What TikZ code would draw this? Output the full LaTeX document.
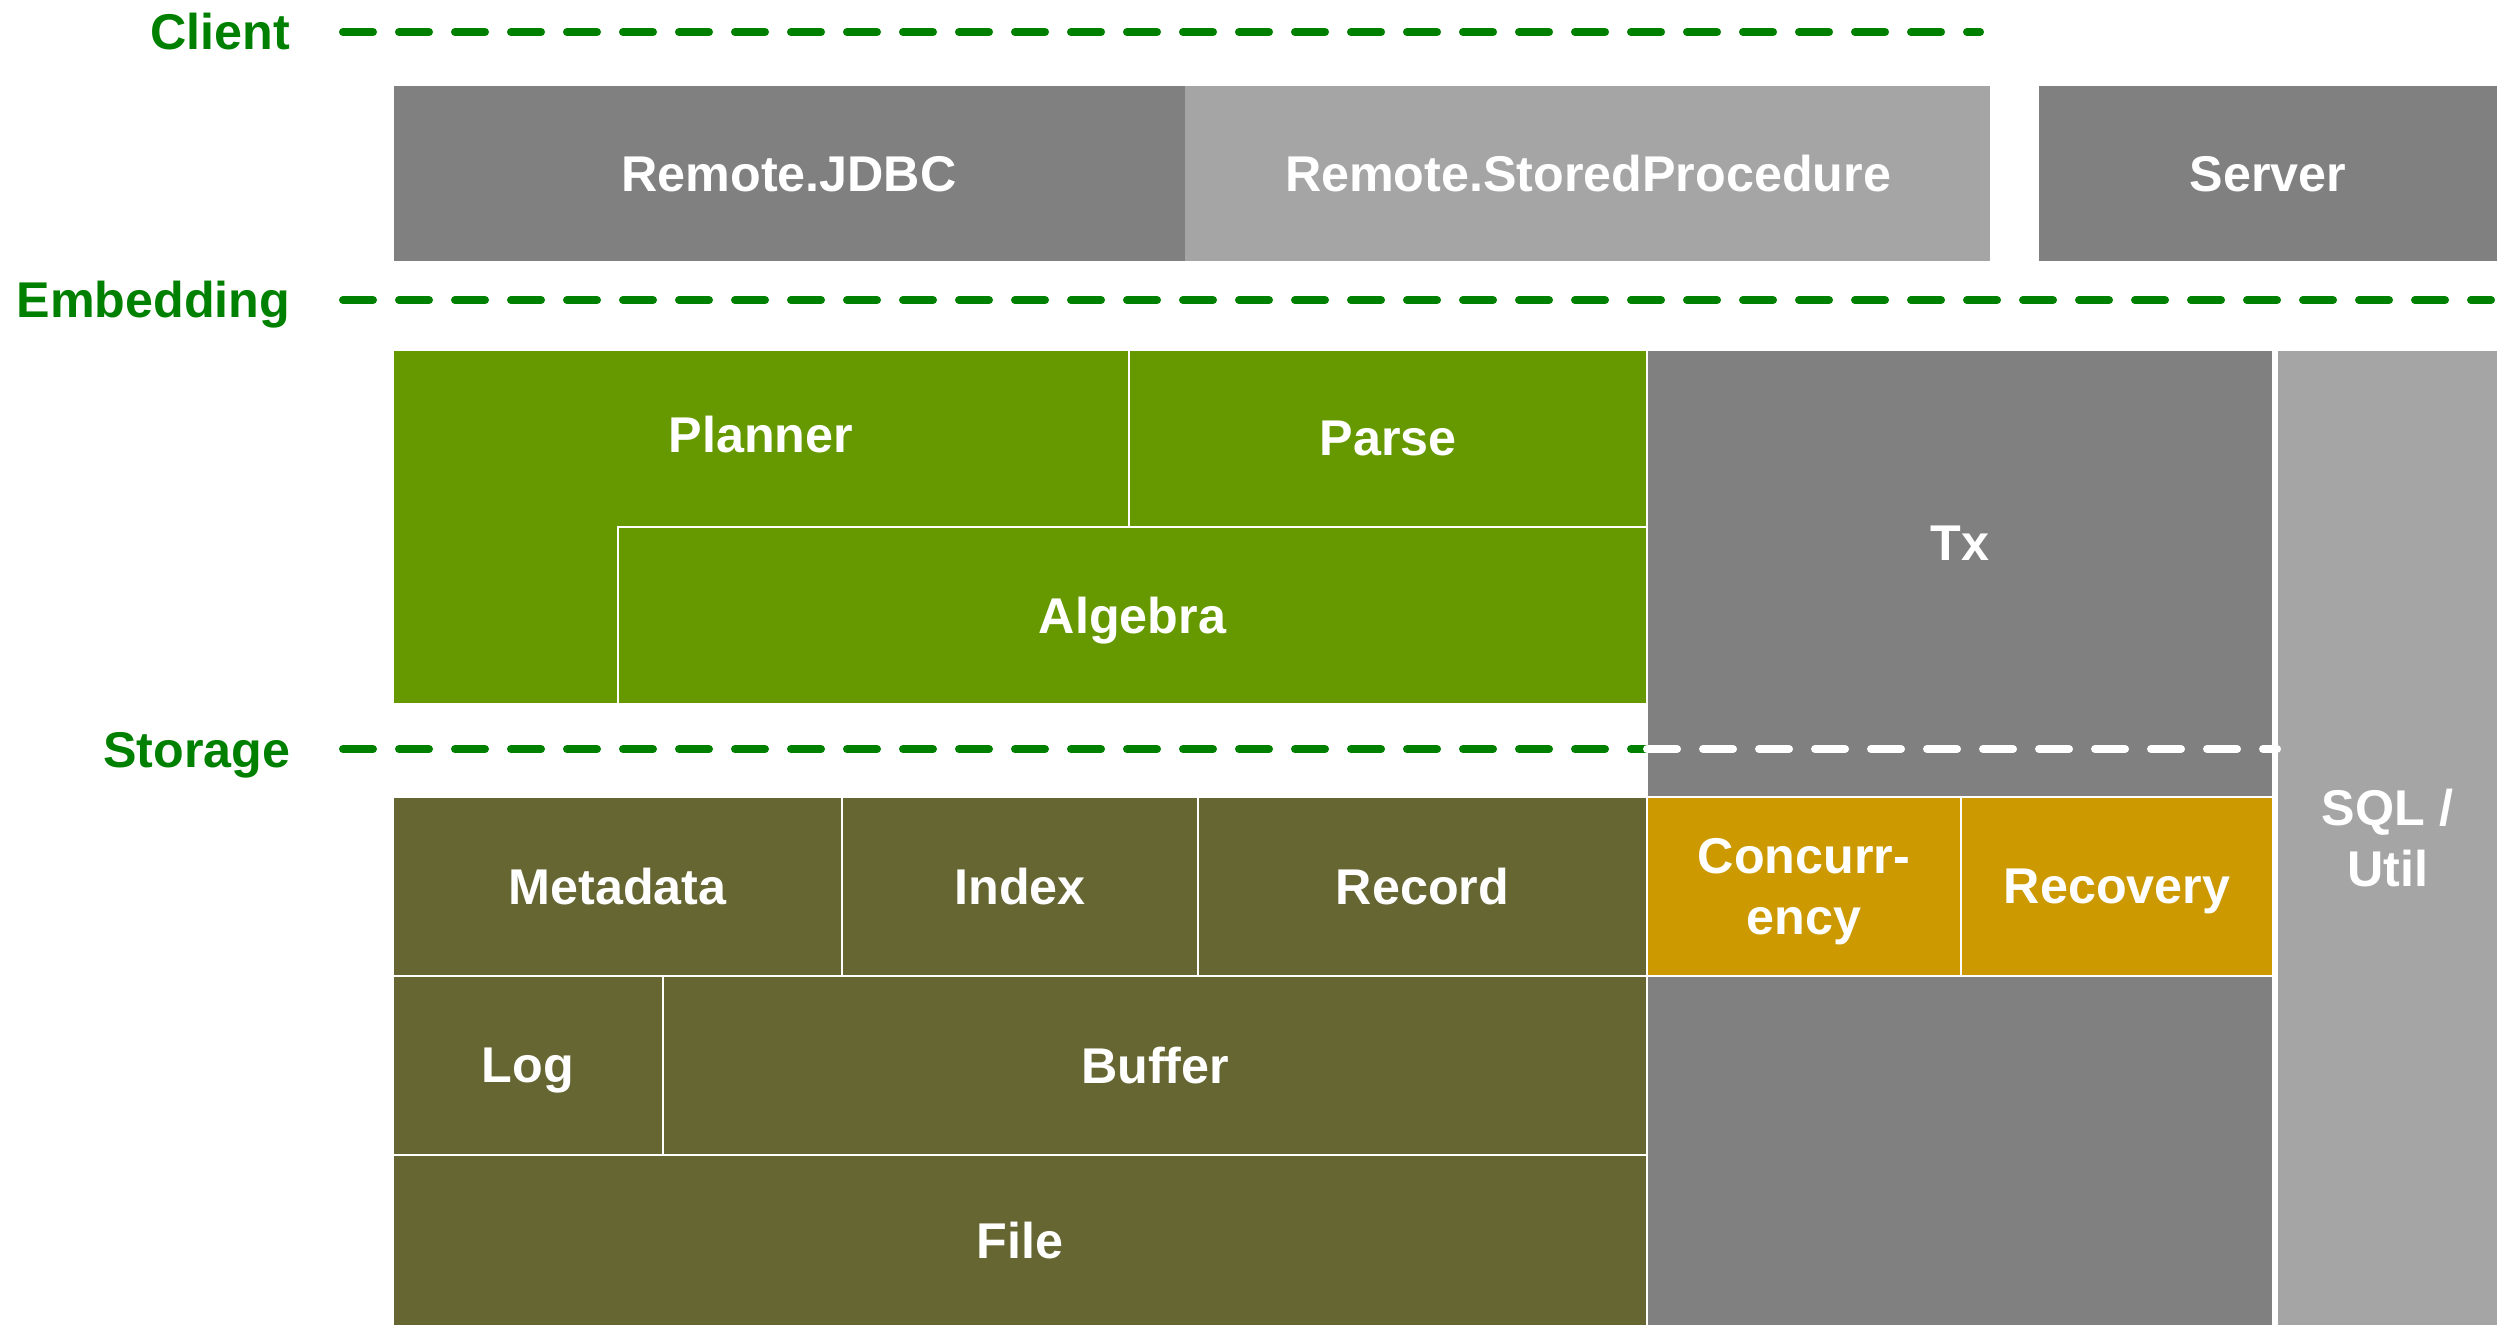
\documentclass[tikz,border=0pt]{standalone}
\usepackage{fontspec}
\setmainfont{Liberation Sans}
\definecolor{dgray}{HTML}{808080}
\definecolor{lgray}{HTML}{A5A5A5}
\definecolor{leaf}{HTML}{669900}
\definecolor{olive}{HTML}{666633}
\definecolor{gold}{HTML}{CC9900}
\definecolor{lyrgreen}{HTML}{008000}
\begin{document}
\begin{tikzpicture}[x=1cm,y=1cm,
  lab/.style={text=white, font=\bfseries\fontsize{14.3}{17.3}\selectfont, align=center, inner sep=0pt, text depth=0pt},
  blk/.style={lab, draw=white, line width=0.6pt, outer sep=0pt, anchor=north west},
  lyr/.style={text=lyrgreen, font=\bfseries\fontsize{14.3}{17.3}\selectfont, anchor=base east, inner sep=0pt},
  gdash/.style={draw=lyrgreen, line width=0.08cm, line cap=round, dash pattern=on 0.30cm off 0.26cm},
  wdash/.style={gdash, draw=white}
]
\useasboundingbox[fill=white] (0,0) rectangle (25.04,-13.26);

% layer labels and separators
\node[lyr] (client) at (2.91,-0.50) {Client};
\node[lyr] (embed) at (2.91,-3.18) {Embedding};
\node[lyr] (stor) at (2.91,-7.67) {Storage};
\coordinate (c1) at (3.43,-0.32);
\coordinate (c2) at (19.80,-0.32);
\coordinate (e1) at (3.43,-3.00);
\coordinate (e2) at (24.91,-3.00);
\coordinate (s1) at (3.43,-7.49);
\coordinate (s2) at (16.47,-7.49);
\coordinate (s3) at (22.77,-7.49);

% client row
\node[blk, draw=none, fill=dgray, minimum width=7.92cm, minimum height=1.77cm] (jdbc) at (3.93,-0.85) {Remote.JDBC};
\node[blk, draw=none, fill=lgray, minimum width=8.06cm, minimum height=1.77cm] (sp) at (11.85,-0.85) {Remote.StoredProcedure};
\draw[white, line width=0.6pt] (jdbc.north west) rectangle (sp.south east);
\node[blk, fill=dgray, minimum width=4.60cm, minimum height=1.77cm] (server) at (20.38,-0.85) {Server};

% transaction and util columns
\node[blk, fill=dgray, minimum width=6.26cm, minimum height=9.76cm] (tx) at (16.47,-3.50) {};
\node[lab] (txl) at (19.60,-5.43) {Tx};
\node[blk, fill=lgray, minimum width=2.21cm, minimum height=9.76cm] (sql) at (22.77,-3.50) {SQL /\\Util};

% embedding layer
\path[fill=leaf, draw=white, line width=0.6pt] (3.93,-3.50) -- (11.29,-3.50) -- (11.29,-5.27) -- (6.18,-5.27) -- (6.18,-7.04) -- (3.93,-7.04) -- cycle;
\node[lab] (planner) at (7.61,-4.34) {Planner};
\node[blk, fill=leaf, minimum width=5.18cm, minimum height=1.77cm] (parse) at (11.29,-3.50) {Parse};
\node[blk, fill=leaf, minimum width=10.29cm, minimum height=1.77cm] (algebra) at (6.18,-5.27) {Algebra};

% storage layer
\node[blk, fill=olive, minimum width=4.49cm, minimum height=1.79cm] (meta) at (3.93,-7.97) {Metadata};
\node[blk, fill=olive, minimum width=3.56cm, minimum height=1.79cm] (index) at (8.42,-7.97) {Index};
\node[blk, fill=olive, minimum width=4.49cm, minimum height=1.79cm] (record) at (11.98,-7.97) {Record};
\node[blk, fill=gold, minimum width=3.14cm, minimum height=1.79cm] (conc) at (16.47,-7.97) {Concurr-\\ency};
\node[blk, fill=gold, minimum width=3.12cm, minimum height=1.79cm] (recov) at (19.61,-7.97) {Recovery};
\node[blk, fill=olive, minimum width=2.70cm, minimum height=1.79cm] (log) at (3.93,-9.76) {Log};
\node[blk, fill=olive, minimum width=9.84cm, minimum height=1.79cm] (buffer) at (6.63,-9.76) {Buffer};
\node[blk, fill=olive, minimum width=12.54cm, minimum height=1.71cm] (file) at (3.93,-11.55) {File};

% dashed separators
\draw[gdash] (c1) -- (c2);
\draw[gdash] (e1) -- (e2);
\draw[gdash] (s1) -- (s2);
\draw[wdash] (s2) -- (s3);
\end{tikzpicture}
\end{document}
